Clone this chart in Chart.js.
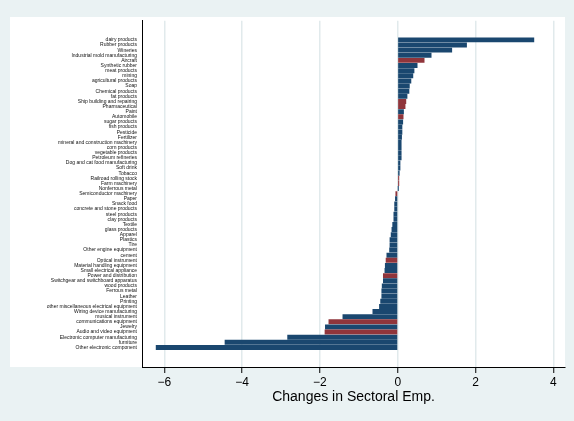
<!DOCTYPE html>
<html>
<head>
<meta charset="utf-8">
<script src="https://cdn.jsdelivr.net/npm/chart.js@4"></script>
<style>
  html, body { margin: 0; padding: 0; background: #eaf2f3; }
</style>
</head>
<body>
<canvas id="chart" width="574" height="421"></canvas>
<script>
// sectors, top to bottom
const sectors = [
  "dairy products", "Rubber products", "Wineries", "Industrial mold manufacturing", "Aircraft",
  "Synthetic rubber", "meat products", "mining", "agricultural products", "Soap",
  "Chemical products", "fat products", "Ship building and repairing", "Pharmaceutical", "Paint",
  "Automobile", "sugar products", "fish products", "Pesticide", "Fertilizer",
  "mineral and construction machinery", "corn products", "vegetable products", "Petroleum refineries", "Dog and cat food manufacturing",
  "Soft drink", "Tobacco", "Railroad rolling stock", "Farm machinery", "Nonferrous metal",
  "Semiconductor machinery", "Paper", "Snack food", "concrete and stone products", "steel products",
  "clay products", "Textile", "glass products", "Apparel", "Plastics",
  "Tire", "Other engine equipment", "cement", "Optical instrument", "Material handling equipment",
  "Small electrical appliance", "Power and distribution", "Switchgear and switchboard apparatus", "wood products", "Ferrous metal",
  "Leather", "Printing", "other miscellaneous electrical equipment", "Wiring device manufacturing", "musical instrument",
  "communications equipment", "Jewelry", "Audio and video equipment", "Electronic computer manufacturing", "furniture",
  "Other electronic component"
];

// changes in sectoral employment
const changes = [
  3.50, 1.77, 1.39, 0.86, 0.68,
  0.50, 0.42, 0.39, 0.34, 0.30,
  0.29, 0.24, 0.21, 0.19, 0.15,
  0.14, 0.13, 0.11, 0.11, 0.10,
  0.09, 0.09, 0.09, 0.09, 0.06,
  0.06, 0.04, 0.03, 0.03, 0.01,
  -0.05, -0.06, -0.08, -0.08, -0.10,
  -0.10, -0.13, -0.15, -0.17, -0.20,
  -0.20, -0.21, -0.28, -0.30, -0.32,
  -0.33, -0.37, -0.37, -0.40, -0.41,
  -0.41, -0.44, -0.47, -0.64, -1.41,
  -1.77, -1.86, -1.87, -2.83, -4.44,
  -6.21
];

// sectors drawn in the second colour
const highlighted = [
  "Aircraft", "Ship building and repairing", "Pharmaceutical", "Automobile",
  "Railroad rolling stock", "Farm machinery", "Semiconductor machinery",
  "Optical instrument", "Power and distribution", "communications equipment",
  "Audio and video equipment"
];

const xTicks = [-6, -4, -2, 0, 2, 4];

const NAVY = "#1a476f";
const MAROON = "#90353b";

// light outer region with a white box behind the plot and labels
const background = {
  id: "background",
  beforeDraw: function(chart)
  {
    let ctx = chart.ctx;
    let area = chart.chartArea;
    ctx.save();
    ctx.fillStyle = "#eaf2f3";
    ctx.fillRect(0, 0, chart.width, chart.height);
    ctx.fillStyle = "#ffffff";
    ctx.fillRect(10, 17, area.right - 10, area.bottom - 17);
    ctx.restore();
  }
};

new Chart(document.getElementById("chart"), {
  type: "bar",
  data: {
    datasets: [{
      data: changes.map(function(v, i) { return {x: v, y: i}; }),
      backgroundColor: sectors.map(function(s) {
        return highlighted.indexOf(s) >= 0 ? MAROON : NAVY;
      }),
      borderWidth: 0,
      barThickness: 4.3
    }]
  },
  options: {
    indexAxis: "y",
    responsive: false,
    animation: false,
    layout: {
      padding: {top: 20.7, right: 9, left: 10, bottom: 0}
    },
    plugins: {
      legend: {display: false},
      tooltip: {enabled: false}
    },
    scales: {
      y: {
        type: "linear",
        reverse: true,
        min: -3.19,
        max: 63.26,
        afterBuildTicks: function(scale) {
          scale.ticks = sectors.map(function(s, i) { return {value: i}; });
        },
        afterFit: function(scale) { scale.width = 132; },
        grid: {display: false, drawTicks: false},
        border: {display: true, color: "#000000", width: 1},
        ticks: {
          autoSkip: false,
          padding: 5,
          color: "#111111",
          font: {family: "Liberation Sans", size: 5},
          callback: function(v) { return sectors[v] || ""; }
        }
      },
      x: {
        type: "linear",
        min: -6.573,
        max: 4.30,
        afterBuildTicks: function(scale) {
          scale.ticks = xTicks.map(function(v) { return {value: v}; });
        },
        afterFit: function(scale) { scale.height = 54; },
        grid: {
          color: "#e1eaec",
          lineWidth: 1.5,
          tickColor: "#000000",
          tickLength: 6,
          tickWidth: 1
        },
        border: {display: true, color: "#000000", width: 1},
        ticks: {
          padding: 2,
          color: "#000000",
          font: {family: "Liberation Sans", size: 12},
          callback: function(v) { return String(v).replace("-", "\u2212"); }
        },
        title: {
          display: true,
          text: "Changes in Sectoral Emp.",
          color: "#000000",
          font: {family: "Liberation Sans", size: 14},
          padding: {top: 0, bottom: 15}
        }
      }
    }
  },
  plugins: [background]
});
</script>
</body>
</html>
